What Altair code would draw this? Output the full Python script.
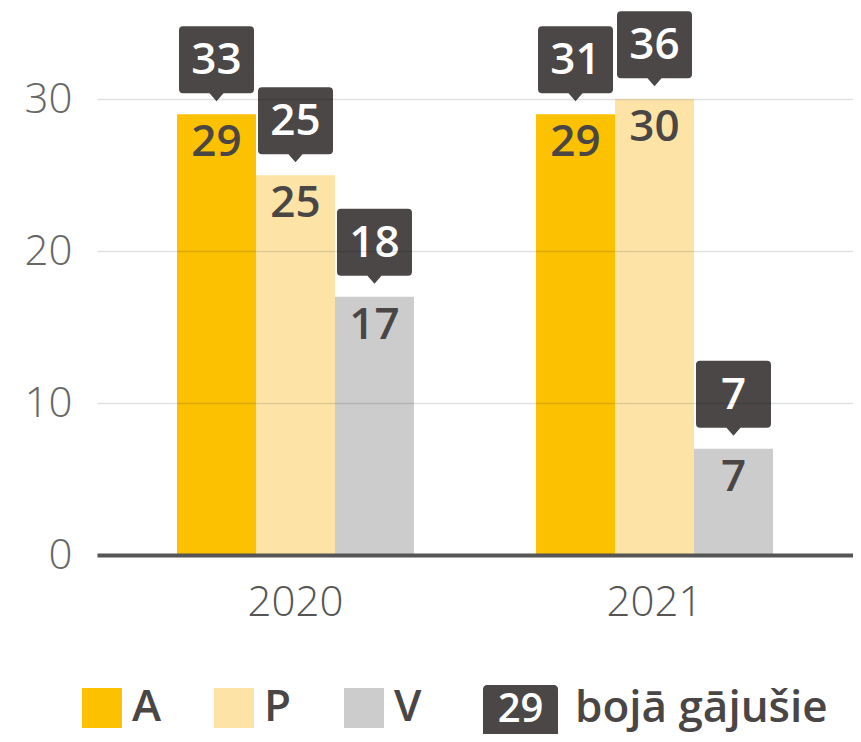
import altair as alt
import pandas as pd

# ---- data ----
years = ["2020", "2020", "2020", "2021", "2021", "2021"]
series = ["A", "P", "V", "A", "P", "V"]
values = [29, 25, 17, 29, 30, 7]
deaths = [33, 25, 18, 31, 36, 7]

series_names = ["A", "P", "V"]
series_colors = ["#FCC100", "#FDE4A6", "#CCCCCC"]
y_ticks = [0, 10, 20, 30]

legend_sample = ["29"]
legend_text = ["bojā gājušie"]

FONT = "Open Sans"
DARK = "#4b4747"
TEXT = "#4a4646"

df = pd.DataFrame({"year": years, "series": series, "value": values, "deaths": deaths})

callout = ("M-1,-0.893Q-1,-1,-0.893,-1L0.893,-1Q1,-1,1,-0.893L1,0.68Q1,0.787,0.893,0.787"
           "L0.187,0.787L0,1L-0.187,0.787L-0.893,0.787Q-1,0.787,-1,0.68Z")

x_enc = alt.X("year:N", title=None,
              scale=alt.Scale(paddingInner=0.34, paddingOuter=0.2229),
              axis=alt.Axis(labelAngle=0, labelFont=FONT, labelFontSize=42, labelFontWeight=300,
                            labelColor="#555555", labelPadding=27, ticks=False,
                            domainColor="#555555", domainWidth=4, grid=False, zindex=2))
xo_enc = alt.XOffset("series:N", sort=series_names, scale=alt.Scale(paddingInner=0, paddingOuter=0))
y_enc = alt.Y("value:Q", title=None,
              scale=alt.Scale(domain=[0, 36], nice=False, zero=True),
              axis=alt.Axis(values=y_ticks, labelFont=FONT, labelFontSize=42, labelFontWeight=300,
                            labelColor="#666666", labelPadding=25, ticks=False, domain=False,
                            grid=True, gridColor="#000000", gridOpacity=0.12, gridWidth=1.5,
                            zindex=1, minExtent=89, maxExtent=89))

base = alt.Chart(df)

bars = base.mark_bar().encode(
    x=x_enc,
    xOffset=xo_enc,
    y=y_enc,
    color=alt.Color("series:N", sort=series_names,
                    scale=alt.Scale(domain=series_names, range=series_colors),
                    legend=alt.Legend(orient="none", legendX=-17, legendY=678, direction="horizontal",
                                      title=None, symbolType="square", symbolSize=1600,
                                      symbolStrokeWidth=0, symbolOpacity=1,
                                      labelFont=FONT, labelFontSize=44, labelFontWeight=600,
                                      labelColor=TEXT, labelOffset=8, columnPadding=50, padding=0)),
)

bar_text = base.mark_text(dy=29, baseline="middle", align="center", font=FONT, fontSize=44,
                          fontWeight=600, color=TEXT).encode(
    x="year:N", xOffset=xo_enc, y="value:Q", text="value:Q")

boxes = base.mark_point(shape=callout, filled=True, size=5625, opacity=1, strokeWidth=0,
                        color=DARK, yOffset=-50.5).encode(
    x="year:N", xOffset=xo_enc, y="value:Q")

box_text = base.mark_text(dy=-53, baseline="middle", align="center", font=FONT, fontSize=44,
                          fontWeight=600, color="white").encode(
    x="year:N", xOffset=xo_enc, y="value:Q", text="deaths:Q")

leg_df = pd.DataFrame({"sample": legend_sample, "label": legend_text})
leg_box = alt.Chart(leg_df).mark_rect(color=DARK, cornerRadius=4).encode(
    x=alt.value(386), x2=alt.value(461), y=alt.value(677), y2=alt.value(730))
leg_num = alt.Chart(leg_df).mark_text(color="white", font=FONT, fontSize=40, fontWeight=600,
                                      baseline="middle", align="center").encode(
    x=alt.value(423.5), y=alt.value(702), text="sample:N")
leg_lab = alt.Chart(leg_df).mark_text(color=TEXT, font=FONT, fontSize=44, fontWeight=600,
                                      baseline="alphabetic", align="left").encode(
    x=alt.value(478), y=alt.value(714), text="label:N")

chart = alt.layer(bars, bar_text, boxes, box_text, leg_box, leg_num, leg_lab).properties(
    width=756, height=547,
    autosize=alt.AutoSizeParams(type="none"),
    padding={"left": 89, "top": 0, "right": 0, "bottom": 179},
).configure_view(stroke=None)

chart.save("out.html", embed_options={"renderer": "svg", "actions": False})
